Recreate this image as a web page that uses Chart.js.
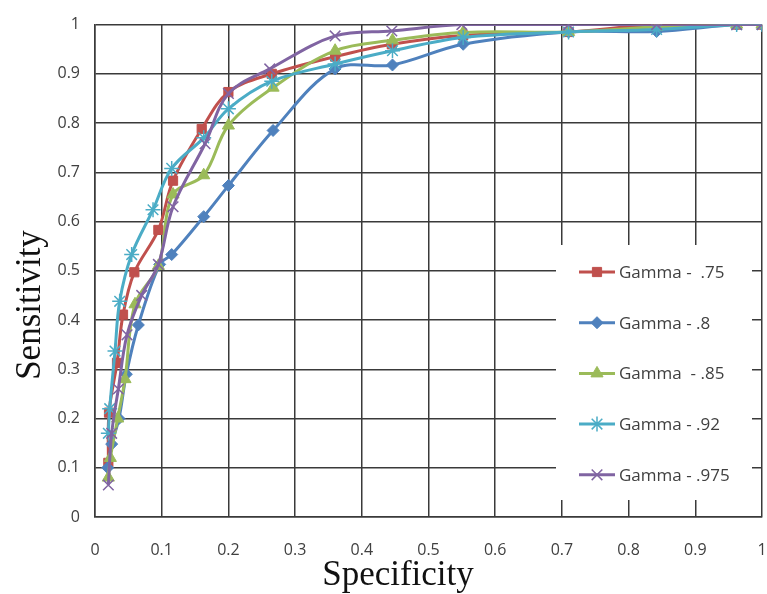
<!DOCTYPE html>
<html>
<head>
<meta charset="utf-8">
<script src="https://cdn.jsdelivr.net/npm/chart.js@4.4.1/dist/chart.umd.min.js"></script>
<style>
    html, body { margin: 0; padding: 0; background: #fff; overflow: hidden; }
    #wrap { width: 767px; height: 594px; position: relative; }
    #rocChart { display: block; }
</style>
</head>
<body>
<div id="wrap"><canvas id="rocChart"></canvas></div>
<script>
// 軸の目盛りラベル
const xTickLabels = ['0', '0.1', '0.2', '0.3', '0.4', '0.5', '0.6', '0.7', '0.8', '0.9', '1'];
const yTickLabels = ['0', '0.1', '0.2', '0.3', '0.4', '0.5', '0.6', '0.7', '0.8', '0.9', '1'];

// 系列名
const seriesNames = ['Gamma -  .75', 'Gamma - .8', 'Gamma  - .85', 'Gamma - .92', 'Gamma - .975'];

// Gamma .75
const spec75 = [0.020, 0.021, 0.033, 0.042, 0.059, 0.095, 0.117, 0.160, 0.200, 0.265, 0.360, 0.445, 0.552, 0.710, 0.842, 0.962, 1.0];
const sens75 = [0.110, 0.212, 0.313, 0.411, 0.497, 0.583, 0.683, 0.788, 0.863, 0.900, 0.935, 0.960, 0.978, 0.985, 1.0, 1.0, 1.0];
// Gamma .8
const spec80 = [0.019, 0.025, 0.036, 0.047, 0.065, 0.097, 0.115, 0.163, 0.200, 0.267, 0.360, 0.446, 0.552, 0.710, 0.842, 0.962, 1.0];
const sens80 = [0.100, 0.148, 0.200, 0.290, 0.390, 0.513, 0.533, 0.610, 0.673, 0.785, 0.910, 0.918, 0.960, 0.985, 0.986, 1.0, 1.0];
// Gamma .85
const spec85 = [0.020, 0.023, 0.034, 0.045, 0.060, 0.095, 0.117, 0.163, 0.200, 0.267, 0.360, 0.446, 0.552, 0.710, 0.842, 0.962, 1.0];
const sens85 = [0.080, 0.120, 0.200, 0.280, 0.432, 0.510, 0.655, 0.694, 0.795, 0.872, 0.947, 0.968, 0.984, 0.985, 0.995, 1.0, 1.0];
// Gamma .92
const spec92 = [0.020, 0.022, 0.030, 0.037, 0.055, 0.087, 0.115, 0.163, 0.200, 0.265, 0.360, 0.446, 0.552, 0.710, 0.842, 0.962, 1.0];
const sens92 = [0.170, 0.220, 0.337, 0.438, 0.533, 0.624, 0.708, 0.770, 0.829, 0.885, 0.920, 0.947, 0.974, 0.985, 0.990, 1.0, 1.0];
// Gamma .975
const spec975 = [0.020, 0.025, 0.035, 0.048, 0.070, 0.095, 0.117, 0.165, 0.200, 0.262, 0.360, 0.445, 0.550, 0.710, 0.842, 0.962, 1.0];
const sens975 = [0.065, 0.170, 0.260, 0.370, 0.450, 0.513, 0.630, 0.758, 0.860, 0.910, 0.977, 0.987, 1.0, 1.0, 1.0, 1.0, 1.0];

const seriesSpec = [spec75, spec80, spec85, spec92, spec975];
const seriesSens = [sens75, sens80, sens85, sens92, sens975];

// 系列ごとの色とマーカー
const seriesColors = ['#C0504D', '#4F81BD', '#9BBB59', '#4BACC6', '#8064A2'];
const markerStyles = [
    { pointStyle: 'rect', radius: 6.5, borderWidth: 1 },
    { pointStyle: 'rectRot', radius: 6, borderWidth: 1 },
    { pointStyle: 'triangle', radius: 7, borderWidth: 1 },
    { pointStyle: 'star', radius: 7.5, borderWidth: 1.5 },
    { pointStyle: 'crossRot', radius: 7.5, borderWidth: 1.5 }
];

const gridColor = '#3a3a3a';
const tickFont = { family: '"Open Sans", sans-serif', size: 16 };

function buildDatasets() {
    return seriesNames.map((name, i) => {
        const points = seriesSpec[i].map((x, k) => ({ x: x, y: seriesSens[i][k] }));
        return {
            label: name,
            data: points,
            showLine: true,
            borderColor: seriesColors[i],
            backgroundColor: seriesColors[i],
            pointBackgroundColor: seriesColors[i],
            pointBorderColor: seriesColors[i],
            borderWidth: 3,
            tension: 0.35,
            pointStyle: markerStyles[i].pointStyle,
            pointRadius: markerStyles[i].radius,
            pointBorderWidth: markerStyles[i].borderWidth,
            // 後の系列を上に描く
            order: seriesNames.length - i
        };
    });
}

// 凡例（プロット内右下の白い枠）
const insideLegend = {
    id: 'insideLegend',
    beforeDatasetsDraw(chart) {
        const ctx = chart.ctx;
        const datasets = chart.data.datasets;
        ctx.save();
        ctx.fillStyle = '#ffffff';
        ctx.fillRect(556, 245, 196, 255);
        datasets.forEach((ds, i) => {
            const y = 272 + i * 50.7;
            ctx.strokeStyle = ds.borderColor;
            ctx.lineWidth = 3;
            ctx.beginPath();
            ctx.moveTo(579, y);
            ctx.lineTo(615, y);
            ctx.stroke();
            ctx.fillStyle = ds.borderColor;
            ctx.lineWidth = ds.pointBorderWidth;
            Chart.helpers.drawPoint(ctx, {
                pointStyle: ds.pointStyle,
                radius: ds.pointRadius,
                rotation: 0,
                borderWidth: ds.pointBorderWidth
            }, 597, y);
            ctx.fillStyle = '#404040';
            ctx.font = '17px "Open Sans", sans-serif';
            ctx.textAlign = 'left';
            ctx.textBaseline = 'middle';
            ctx.fillText(ds.label, 619, y + 1);
        });
        ctx.restore();
    }
};

// 軸タイトル
const axisTitles = {
    id: 'axisTitles',
    afterDraw(chart) {
        const ctx = chart.ctx;
        ctx.save();
        ctx.fillStyle = '#111111';
        ctx.font = '35px "Liberation Serif", "Times New Roman", serif';
        ctx.textAlign = 'center';
        ctx.textBaseline = 'middle';
        ctx.fillText('Specificity', 398, 576);
        ctx.translate(31, 305);
        ctx.rotate(-Math.PI / 2);
        ctx.fillText('Sensitivity', 0, 0);
        ctx.restore();
    }
};

function createChart() {
    const ctx = document.getElementById('rocChart').getContext('2d');
    new Chart(ctx, {
        type: 'scatter',
        data: { datasets: buildDatasets() },
        options: {
            responsive: true,
            maintainAspectRatio: false,
            animation: false,
            // マーカー分の自動余白は付けない
            layout: { autoPadding: false, padding: { top: 22, right: 5, left: 0, bottom: 0 } },
            plugins: {
                legend: { display: false },
                tooltip: { enabled: false }
            },
            scales: {
                x: {
                    type: 'linear',
                    min: 0,
                    max: 1,
                    afterFit(scale) {
                        scale.height = 77;
                        // ラベル余白の分だけ右端が縮まないようにする
                        scale.paddingLeft = 0;
                        scale.paddingRight = 0;
                    },
                    ticks: {
                        stepSize: 0.1,
                        padding: 24,
                        color: '#404040',
                        font: tickFont,
                        callback: (value, index) => xTickLabels[index]
                    },
                    grid: { color: gridColor, lineWidth: 1.5, drawTicks: false },
                    border: { color: gridColor, width: 1.5 }
                },
                y: {
                    type: 'linear',
                    min: 0,
                    max: 1,
                    afterFit(scale) { scale.width = 95; },
                    ticks: {
                        stepSize: 0.1,
                        padding: 15,
                        color: '#404040',
                        font: tickFont,
                        callback: (value, index) => yTickLabels[index]
                    },
                    grid: { color: gridColor, lineWidth: 1.5, drawTicks: false },
                    border: { color: gridColor, width: 1.5 }
                }
            }
        },
        plugins: [insideLegend, axisTitles]
    });
}

createChart();
</script>
</body>
</html>
